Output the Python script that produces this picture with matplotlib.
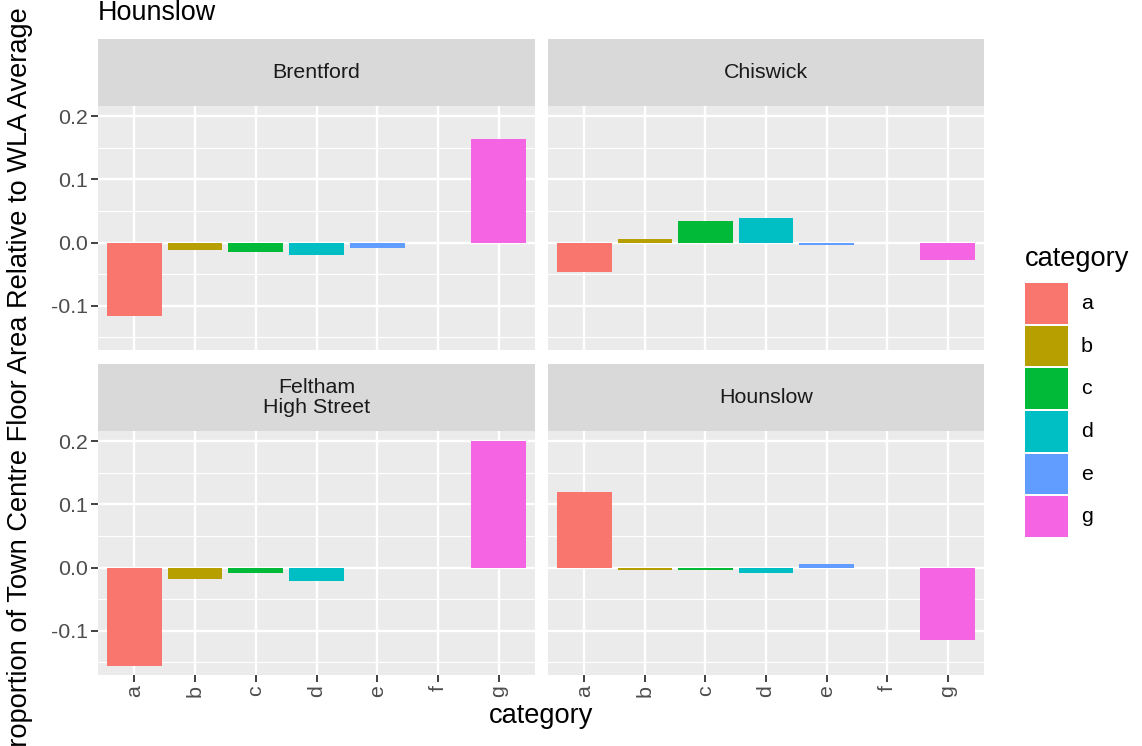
import numpy as np
import matplotlib
matplotlib.use("Agg")
import matplotlib.pyplot as plt
from matplotlib.patches import Rectangle

plt.rcParams['font.family'] = ['Liberation Sans', 'DejaVu Sans']
plt.rcParams['axes.unicode_minus'] = False

# ---- data -------------------------------------------------------------
categories = ['a', 'b', 'c', 'd', 'e', 'f', 'g']
towns = ['Brentford', 'Chiswick', 'Feltham\nHigh Street', 'Hounslow']
nan = np.nan
brentford = [-0.117, -0.012, -0.015, -0.019, -0.008, nan, 0.164]
chiswick = [-0.046, 0.006, 0.034, 0.039, -0.004, nan, -0.028]
feltham = [-0.155, -0.018, -0.009, -0.021, nan, nan, 0.200]
hounslow = [0.119, -0.004, -0.004, -0.008, 0.005, nan, -0.114]
town_values = [brentford, chiswick, feltham, hounslow]

legend_categories = ['a', 'b', 'c', 'd', 'e', 'g']
palette = {'a': '#F8766D', 'b': '#B79F00', 'c': '#00BA38',
           'd': '#00BFC4', 'e': '#619CFF', 'g': '#F564E3'}

y_ticks = [-0.1, 0.0, 0.1, 0.2]
y_tick_labels = ['-0.1', '0.0', '0.1', '0.2']
y_minor = [-0.15, -0.05, 0.05, 0.15]

# ---- layout -----------------------------------------------------------
W, H = 1142, 746
fig = plt.figure(figsize=(W / 100, H / 100), dpi=100)


def box(x0, y0, x1, y1):
    return [x0 / W, 1 - y1 / H, (x1 - x0) / W, (y1 - y0) / H]


cols = [(98, 535), (548, 984)]
rows = [((39, 106), (106, 350)), ((364, 431), (431, 675))]

PANEL_BG = '#EBEBEB'
STRIP_BG = '#D9D9D9'
TICK_SIZE = 15.4

for i, (town, vals) in enumerate(zip(towns, town_values)):
    r, c = divmod(i, 2)
    (sx0, sx1) = cols[c]
    (st0, st1), (py0, py1) = rows[r]

    # strip
    sax = fig.add_axes(box(sx0, st0, sx1, st1))
    sax.set_facecolor(STRIP_BG)
    sax.set_xticks([]); sax.set_yticks([])
    for s in sax.spines.values():
        s.set_visible(False)
    sax.text(0.5, 0.5, town, ha='center', va='center', fontsize=TICK_SIZE,
             color='#1A1A1A', linespacing=1.05, transform=sax.transAxes)

    # panel
    ax = fig.add_axes(box(sx0, py0, sx1, py1))
    ax.set_facecolor(PANEL_BG)
    for s in ax.spines.values():
        s.set_visible(False)
    x = np.arange(len(categories))
    v = np.array(vals, dtype=float)
    m = ~np.isnan(v)
    ax.bar(x[m], v[m], width=0.9,
           color=[palette[categories[k]] for k in x[m]], linewidth=0, zorder=3)
    ax.set_xlim(-0.6, len(categories) - 0.4)
    ax.set_ylim(-0.170, 0.216)
    ax.set_yticks(y_ticks)
    ax.set_yticks(y_minor, minor=True)
    ax.set_xticks(x)
    ax.grid(which='major', color='white', linewidth=1.7, zorder=1)
    ax.grid(which='minor', axis='y', color='white', linewidth=0.85, zorder=1)
    ax.set_axisbelow(True)
    ax.tick_params(which='major', length=5, width=1.3, color='#333333',
                   labelcolor='#4D4D4D', labelsize=TICK_SIZE, pad=2.5)
    ax.tick_params(which='minor', length=0)

    if c == 0:
        ax.set_yticklabels(y_tick_labels)
    else:
        ax.tick_params(axis='y', which='major', length=0, labelleft=False)
    if r == 1:
        ax.set_xticklabels(categories, rotation=90, va='top', ha='center')
    else:
        ax.tick_params(axis='x', which='major', length=0, labelbottom=False)

# ---- titles -----------------------------------------------------------
fig.text(98 / W, 1 - 20 / H, 'Hounslow', fontsize=19.4, color='black',
         ha='left', va='baseline')
fig.text(541 / W, 1 - 723 / H, 'category', fontsize=19.6, color='black',
         ha='center', va='baseline')
fig.text(20 / W, 1 - 386 / H,
         'Proportion of Town Centre Floor Area Relative to WLA Average',
         fontsize=19.6, color='black', rotation=90, ha='center', va='center')

# ---- legend -----------------------------------------------------------
fig.text(1025 / W, 1 - 266 / H, 'category', fontsize=19.6, color='black',
         ha='left', va='baseline')
lax = fig.add_axes(box(1025, 282, 1140, 538))
lax.set_xlim(0, 115)
lax.set_ylim(len(legend_categories), 0)
lax.axis('off')
for k, cat in enumerate(legend_categories):
    lax.add_patch(Rectangle((0, k + 0.02), 43, 0.96,
                            facecolor=palette[cat], edgecolor='none'))
    lax.text(56, k + 0.5, cat, fontsize=TICK_SIZE, color='black',
             ha='left', va='center')

fig.savefig('out.png', dpi=100, facecolor='white')
